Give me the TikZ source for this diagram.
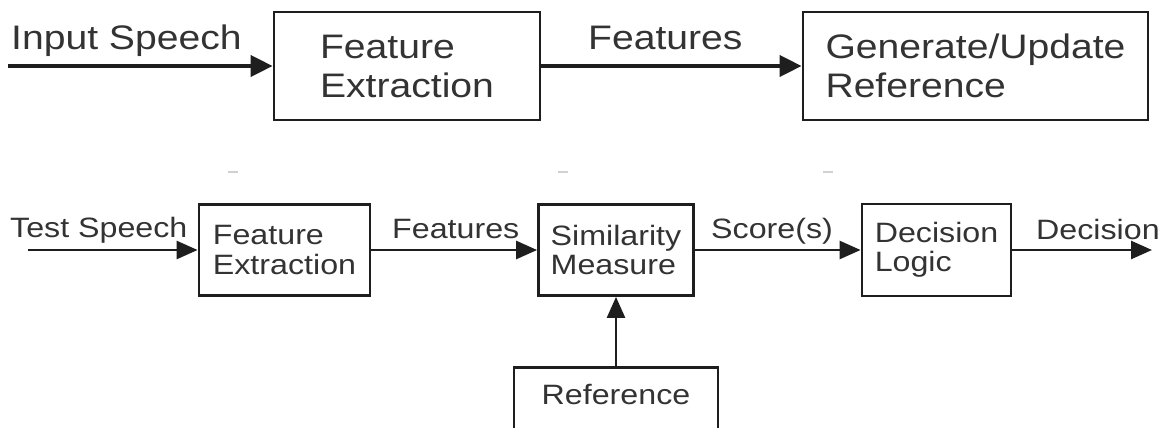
\documentclass[tikz,border=0pt]{standalone}
\usepackage{fontspec}
\setmainfont{Liberation Sans}[FakeStretch=1.15]
\usetikzlibrary{arrows.meta}
\definecolor{txt}{HTML}{333333}
\definecolor{ln}{HTML}{1E1E1E}
\begin{document}
\begin{tikzpicture}[x=1pt,y=-1pt,
  bigbox/.style={draw=ln, line width=2.8pt, align=left, text=txt, font=\fontsize{34}{39}\selectfont, inner sep=0pt},
  smallbox/.style={draw=ln, line width=2.8pt, align=left, text=txt, font=\fontsize{28}{29.5}\selectfont, inner sep=0pt},
  biglabel/.style={anchor=base west, text=txt, font=\fontsize{34}{39}\selectfont, inner sep=0pt},
  smalllabel/.style={anchor=base west, text=txt, font=\fontsize{28}{29.5}\selectfont, inner sep=0pt},
  bigarrow/.style={draw=ln, line width=4pt, -{Triangle[length=22pt,width=21pt]}},
  smallarrow/.style={draw=ln, line width=2.6pt, -{Triangle[length=21pt,width=18pt]}},
  faint/.style={draw=black!18, line width=2pt}
]
\clip (0,0) rectangle (1165,428);
\fill[white] (0,0) rectangle (1165,428);

% top row
\node[bigbox, minimum width=266pt, minimum height=108pt] (fe1) at (407,66) {Feature\\Extraction};
\node[bigbox, minimum width=345pt, minimum height=108pt] (gen) at (975.5,66) {Generate/Update\\Reference};
\coordinate (in1) at (8,66);
\draw[bigarrow] (in1) -- (fe1.west);
\draw[bigarrow] (fe1.east) -- (gen.west);
\node[biglabel] (lin) at (11,50) {Input Speech};
\node[biglabel] (lfeat) at (588,50) {Features};

% faint marks
\draw[faint] (228,172) -- (238,172);
\draw[faint] (558,172) -- (568,172);
\draw[faint] (823,172) -- (833,172);

% bottom row
\node[smallbox, minimum width=171pt, minimum height=91pt] (fe2) at (284.5,250) {Feature\\Extraction};
\node[smallbox, minimum width=155pt, minimum height=91pt] (sm) at (616,250) {Similarity\\Measure};
\node[smallbox, minimum width=149pt, minimum height=92pt] (dl) at (936.5,250) {Decision\\Logic};
\node[smallbox, inner ysep=17pt, minimum width=204pt, anchor=north] (ref) at (616,366) {\rule[-60pt]{0pt}{0pt}Reference};
\coordinate (in2) at (28,250);
\coordinate (out) at (1152,250);
\draw[smallarrow] (in2) -- (fe2.west);
\draw[smallarrow] (fe2.east) -- (sm.west);
\draw[smallarrow] (sm.east) -- (dl.west);
\draw[smallarrow] (dl.east) -- (out);
\draw[smallarrow] (ref.north) -- (sm.south);
\node[smalllabel] (ltest) at (10,237) {Test Speech};
\node[smalllabel] (lfeat2) at (392,238) {Features};
\node[smalllabel] (lscore) at (711,238) {Score(s)};
\node[smalllabel] (ldec) at (1036,239) {Decision};
\end{tikzpicture}
\end{document}
